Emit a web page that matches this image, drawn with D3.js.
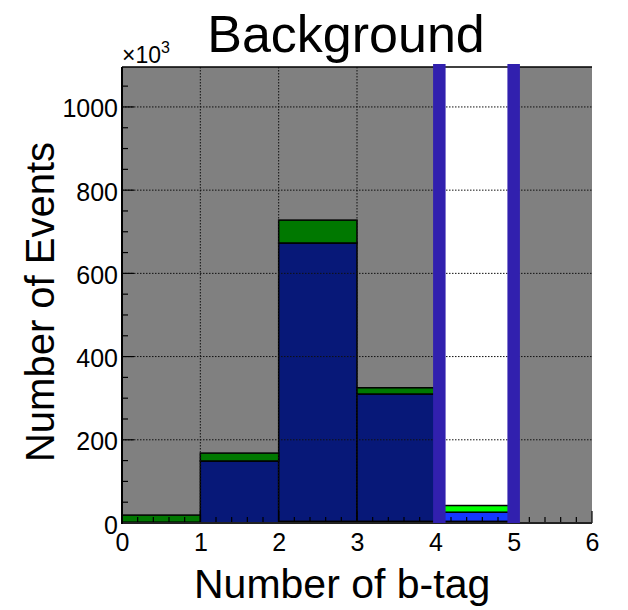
<!DOCTYPE html>
<html>
<head>
	<meta charset="utf-8">
	<title>Background</title>
	<script src="https://d3js.org/d3.v7.min.js"></script>
	<style>
		body { margin: 0; background: #fff; }
		text { font-family: "Liberation Sans", Arial, Helvetica, sans-serif; }
	</style>
</head>
<body>
<div id="chart"></div>
<script type="text/javascript">

	// bins of the b-tag multiplicity (lower edges), values in units of 10^3 events
	var binEdges = [0, 1, 2, 3, 4, 5];
	var redVals   = [0, 0, 4, 4, 4, 0];
	var navyVals  = [2, 149, 669, 306, 0, 0];
	var blueVals  = [0, 0, 0, 0, 22, 0];
	var limeVals  = [0, 0, 0, 0, 16, 0];
	var greenVals = [17, 19, 55, 15, 0, 0];
	// the highlighted bin (off scale, clipped at the frame)
	var signalVals = [0, 0, 0, 0, 2000, 0];

	var xTicks = [0, 1, 2, 3, 4, 5, 6];
	var yTicks = [0, 200, 400, 600, 800, 1000];

	var W = 628, H = 610;
	var x0 = 122, x1 = 592, y0 = 67, y1 = 523;

	var svg = d3.select("#chart").append("svg")
		.attr("width", W).attr("height", H);

	var x = d3.scaleLinear().domain([0, 6]).range([x0, x1]);
	var y = d3.scaleLinear().domain([0, 1096]).range([y1, y0]);

	svg.append("clipPath").attr("id", "frame")
		.append("rect").attr("x", x0).attr("y", y0)
		.attr("width", x1 - x0).attr("height", y1 - y0);

	// gray pad
	svg.append("rect")
		.attr("x", x0).attr("y", y0)
		.attr("width", x1 - x0).attr("height", y1 - y0)
		.style("fill", "#808080");

	var plot = svg.append("g").attr("clip-path", "url(#frame)");

	// white highlighted bin
	plot.selectAll("rect.sig")
		.data(binEdges.map(function(b, i) { return {b: b, v: signalVals[i]}; }).filter(function(d){ return d.v > 0; }))
		.enter().append("rect")
		.attr("class", "sig")
		.attr("x", function(d){ return x(d.b); })
		.attr("width", function(d){ return x(d.b + 1) - x(d.b); })
		.attr("y", function(d){ return y(d.v); })
		.attr("height", function(d){ return y(0) - y(d.v); })
		.style("fill", "#fff");

	// dotted grid
	var grid = svg.append("g").style("stroke", "#111").style("stroke-width", 1)
		.style("stroke-dasharray", "1.5,1.5");
	grid.selectAll("line.gx").data(xTicks.slice(1, -1)).enter().append("line")
		.attr("x1", function(d){ return x(d); }).attr("x2", function(d){ return x(d); })
		.attr("y1", y0).attr("y2", y1);
	grid.selectAll("line.gy").data(yTicks.slice(1)).enter().append("line")
		.attr("y1", function(d){ return y(d); }).attr("y2", function(d){ return y(d); })
		.attr("x1", x0).attr("x2", x1);

	// ticks (inward), under the histograms
	var yMinor = d3.range(0, 1096, 50);
	var xMinor = d3.range(0, 6.001, 0.2);
	var tickG = svg.append("g").style("stroke", "#000").style("stroke-width", 1.2);
	tickG.selectAll("line.ymi").data(yMinor).enter().append("line")
		.attr("x1", x0).attr("x2", function(d){ return x0 + (d % 200 === 0 ? 12 : 6); })
		.attr("y1", function(d){ return y(d); }).attr("y2", function(d){ return y(d); });
	tickG.selectAll("line.xmi").data(xMinor).enter().append("line")
		.attr("y1", y1).attr("y2", function(d, i){ return y1 - (i % 5 === 0 ? 12 : 6); })
		.attr("x1", function(d){ return x(d); }).attr("x2", function(d){ return x(d); });

	// stacked histograms
	var layers = [
		{name: "red",   color: "#a0301c", vals: redVals,   stroke: "none"},
		{name: "navy",  color: "#071878", vals: navyVals,  stroke: "#000"},
		{name: "blue",  color: "#1438ff", vals: blueVals,  stroke: "#000"},
		{name: "lime",  color: "#00ff00", vals: limeVals,  stroke: "#000"},
		{name: "green", color: "#007800", vals: greenVals, stroke: "#000"}
	];
	var base = binEdges.map(function(){ return 0; });
	layers.forEach(function(l) {
		var rows = binEdges.map(function(b, i) {
			var r = {b: b, lo: base[i], hi: base[i] + l.vals[i]};
			base[i] = r.hi;
			return r;
		}).filter(function(r){ return r.hi > r.lo; });
		plot.selectAll("rect." + l.name).data(rows).enter().append("rect")
			.attr("class", l.name)
			.attr("x", function(d){ return x(d.b); })
			.attr("width", function(d){ return x(d.b + 1) - x(d.b); })
			.attr("y", function(d){ return y(d.hi); })
			.attr("height", function(d){ return y(d.lo) - y(d.hi); })
			.style("fill", l.color)
			.style("stroke", l.stroke)
			.style("stroke-width", 1.5);
	});

	// frame
	svg.append("line").attr("x1", x0).attr("x2", x1).attr("y1", y0).attr("y2", y0)
		.style("stroke", "#000").style("stroke-width", 1.5);
	svg.append("line").attr("x1", x0).attr("x2", x1).attr("y1", y1).attr("y2", y1)
		.style("stroke", "#222").style("stroke-width", 2);
	svg.append("line").attr("x1", x0).attr("x2", x0).attr("y1", y0).attr("y2", y1 + 1)
		.style("stroke", "#000").style("stroke-width", 2);

	// thick outline of the highlighted bin
	var sigBins = binEdges.filter(function(b, i){ return signalVals[i] > 0; });
	sigBins.forEach(function(b) {
		[x(b) + 4, x(b + 1)].forEach(function(px) {
			svg.append("line")
				.attr("x1", px).attr("x2", px)
				.attr("y1", y0 - 3).attr("y2", y1)
				.style("stroke", "#3120ae").style("stroke-width", 12.5);
		});
	});

	// axes labels
	var yAxis = d3.axisLeft(y).tickValues(yTicks).tickFormat(d3.format("d")).tickSize(0).tickPadding(4);
	var gy = svg.append("g").attr("transform", "translate(" + x0 + ",0)").call(yAxis);
	gy.select(".domain").remove();
	gy.selectAll("text").style("font-size", "25px").style("fill", "#000")
		.style("font-family", "'Liberation Sans', Arial, sans-serif").attr("dy", "0.4em");

	var xAxis = d3.axisBottom(x).tickValues(xTicks).tickFormat(d3.format("d")).tickSize(0).tickPadding(10);
	var gx = svg.append("g").attr("transform", "translate(0," + y1 + ")").call(xAxis);
	gx.select(".domain").remove();
	gx.selectAll("text").style("font-size", "25px").style("fill", "#000")
		.style("font-family", "'Liberation Sans', Arial, sans-serif");

	// x10^3 exponent
	var ex = svg.append("text").attr("x", x0).attr("y", 63).style("font-size", "23px");
	ex.append("tspan").text("\u00d710");
	ex.append("tspan").attr("dy", -10).style("font-size", "16px").text("3");

	// titles
	svg.append("text").attr("x", 346).attr("y", 52)
		.attr("text-anchor", "middle").style("font-size", "52px").text("Background");

	svg.append("text").attr("transform", "translate(54,302) rotate(-90)")
		.attr("text-anchor", "middle").style("font-size", "40px").text("Number of Events");

	svg.append("text").attr("x", 194).attr("y", 598)
		.style("font-size", "41px").text("Number of b-tag");

</script>
</body>
</html>
